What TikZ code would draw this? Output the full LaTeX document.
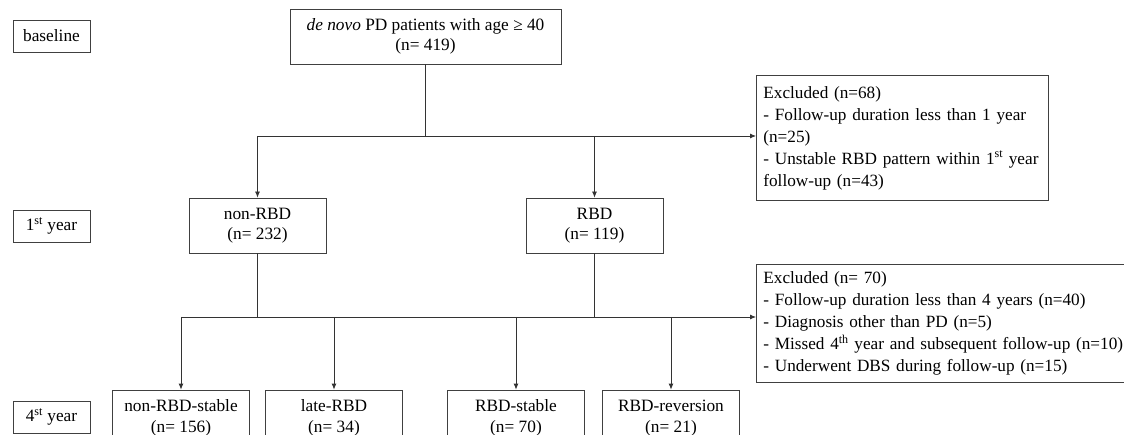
\documentclass[tikz,border=0pt]{standalone}
\usepackage{fontspec}
\setmainfont{Liberation Serif}
\usetikzlibrary{arrows.meta}

\begin{document}
\begin{tikzpicture}[x=1pt,y=-1pt,
    box/.style={draw=black!75,line width=0.8pt,align=center,inner sep=0pt,font=\fontsize{17.3}{20.5}\selectfont},
    stage/.style={box,minimum width=77pt,minimum height=32pt},
    group/.style={box,minimum width=137pt,minimum height=55pt},
    excl/.style={box,align=left,anchor=north west,inner sep=7pt,font=\fontsize{17.2}{22}\selectfont},
    link/.style={draw=black!80,line width=0.8pt},
    arr/.style={link,-{Latex[length=6pt,width=5pt]}}]
  \useasboundingbox (0,0) rectangle (1124,435);
  % stages
  \node[stage] (baseline) at (51.5,36) {baseline};
  \node[stage] (year1) at (51.5,226) {1\textsuperscript{st} year};
  \node[stage] (year4) at (51.5,417) {4\textsuperscript{st} year};
  % baseline cohort
  \node[box,minimum width=271pt,minimum height=55pt] (cohort) at (425.5,36.5) {\textit{de novo} PD patients with age ≥ 40\\(n= 419)};
  % 1st year
  \node[group] (nonrbd) at (257.5,225.5) {non-RBD\\(n= 232)};
  \node[group] (rbd) at (594.5,225.5) {RBD\\(n= 119)};
  \node[excl,text width=278pt,minimum height=125pt] (excla) at (756,75) {Excluded (n=68)\\- Follow-up duration less than 1 year\\(n=25)\\- Unstable RBD pattern within 1\textsuperscript{st} year\\follow-up (n=43)};
  % 4th year
  \node[group,minimum height=56pt] (nrbdstable) at (181,418) {non-RBD-stable\\(n= 156)};
  \node[group,minimum height=56pt] (laterbd) at (334,418) {late-RBD\\(n= 34)};
  \node[group,minimum height=56pt] (rbdstable) at (516,418) {RBD-stable\\(n= 70)};
  \node[group,minimum height=56pt] (rbdrev) at (671,418) {RBD-reversion\\(n= 21)};
  \node[excl,text width=390pt,minimum height=114pt] (exclb) at (756,264) {Excluded (n= 70)\\- Follow-up duration less than 4 years (n=40)\\- Diagnosis other than PD (n=5)\\- Missed 4\textsuperscript{th} year and subsequent follow-up (n=10)\\- Underwent DBS during follow-up (n=15)};
  % split after baseline
  \coordinate (splita) at (425.5,136);
  \draw[link] (cohort) -- (splita);
  \draw[arr] (nonrbd.north |- splita) -- (splita -| excla.west);
  \draw[arr] (nonrbd.north |- splita) -- (nonrbd);
  \draw[arr] (rbd.north |- splita) -- (rbd);
  % split after 1st year
  \coordinate (splitb) at (257.5,317);
  \draw[link] (nonrbd) -- (splitb);
  \draw[link] (rbd) -- (rbd.south |- splitb);
  \draw[arr] (nrbdstable.north |- splitb) -- (splitb -| exclb.west);
  \foreach \n in {nrbdstable,laterbd,rbdstable,rbdrev}
    \draw[arr] (\n.north |- splitb) -- (\n);
\end{tikzpicture}
\end{document}
